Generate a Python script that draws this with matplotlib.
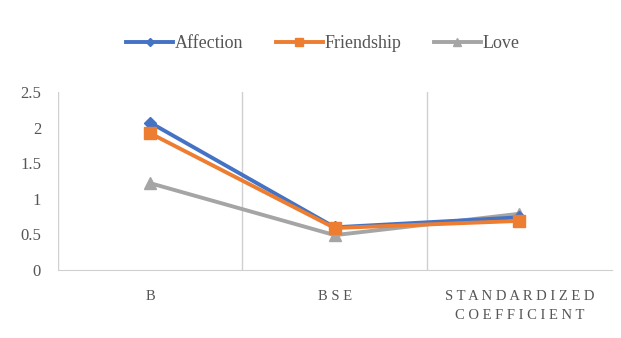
import matplotlib
matplotlib.use("Agg")
import matplotlib.pyplot as plt

categories = ["B", "BSE", "STANDARDIZED\nCOEFFICIENT"]
affection = [2.07, 0.60, 0.74]
friendship = [1.92, 0.59, 0.69]
love = [1.22, 0.49, 0.79]
yticks = [0, 0.5, 1, 1.5, 2, 2.5]

plt.rcParams["font.family"] = ["Liberation Serif", "DejaVu Serif"]

fig = plt.figure(figsize=(6.21, 3.38), dpi=100)
ax = fig.add_axes([0.093, 0.201, 0.892, 0.527])

x = list(range(len(categories)))
ax.plot(x, affection, color="#4472C4", lw=2.8, marker="D", ms=6, label="Affection", zorder=3)
ax.plot(x, friendship, color="#ED7D31", lw=2.8, marker="s", ms=8, label="Friendship", zorder=4)
ax.plot(x, love, color="#A5A5A5", lw=2.8, marker="^", ms=9, label="Love", zorder=2)

ax.set_xlim(-0.5, len(categories) - 0.5)
ax.set_ylim(0, 2.5)
ax.set_yticks(yticks)
ax.set_yticklabels([f"{v:g}" for v in yticks])

# category separators
for b in range(len(categories)):
    ax.axvline(b - 0.5, color="#D0D0D0", lw=1, zorder=0)

def spaced(s):
    return "\n".join(" ".join(line) for line in s.split("\n"))

ax.set_xticks(x)
ax.set_xticklabels([spaced(c) for c in categories], fontsize=10.5, color="#555555",
                   linespacing=1.6)

for side in ["top", "right", "left"]:
    ax.spines[side].set_visible(False)
ax.spines["bottom"].set_color("#D0D0D0")
ax.tick_params(axis="both", length=0, colors="#555555", labelsize=12)
ax.tick_params(axis="x", pad=14, labelsize=10.5)
ax.tick_params(axis="y", pad=12)

fig.legend(loc="upper center", bbox_to_anchor=(0.52, 0.945), ncol=3, frameon=False,
           fontsize=13, handlelength=2.6, handletextpad=0.1, columnspacing=1.8,
           markerscale=0.7, labelcolor="#555555")

fig.savefig("out.png", dpi=100)
